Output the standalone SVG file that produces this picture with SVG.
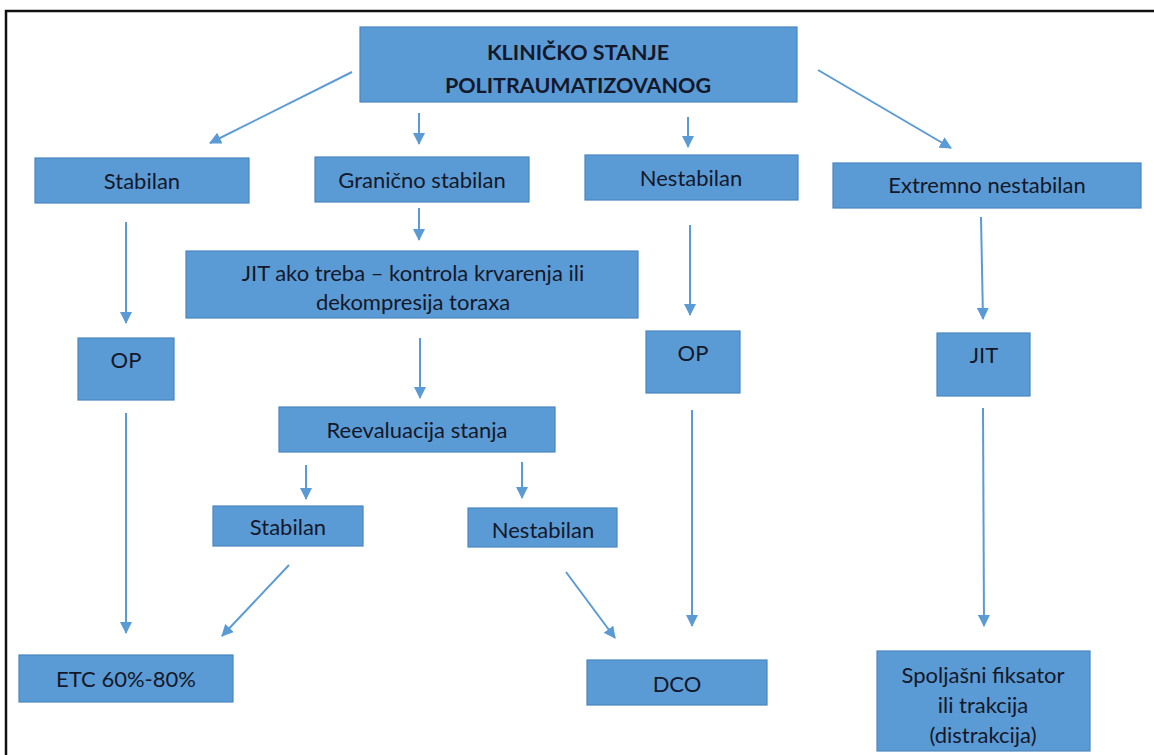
<svg xmlns="http://www.w3.org/2000/svg" width="1154" height="755" viewBox="0 0 1154 755">
<style>
.box{fill:#5B9BD5;stroke:#4A86C0;stroke-width:1.2}
.t{font-family:Lato,"Liberation Sans",sans-serif;font-size:22px;fill:#14182a;text-anchor:middle}
.b{font-weight:bold;font-size:21.5px}
.c{stroke:#5B9BD5;stroke-width:2;fill:none;marker-end:url(#ah)}
</style>
<defs>
<marker id="ah" viewBox="0 0 12 12" refX="11" refY="6" markerWidth="12" markerHeight="12" markerUnits="userSpaceOnUse" orient="auto">
<path d="M0,0 L12,6 L0,12 Z" fill="#5B9BD5"/>
</marker>
</defs>
<rect width="1154" height="755" fill="#ffffff"/>
<path d="M6,755 V11 H1154" stroke="#111" stroke-width="2.5" fill="none"/>
<g id="connectors">
<line class="c" x1="352" y1="72" x2="210" y2="143"/>
<line class="c" x1="419" y1="113" x2="419" y2="144"/>
<line class="c" x1="688" y1="117" x2="688" y2="147"/>
<line class="c" x1="818" y1="70" x2="951" y2="148"/>
<line class="c" x1="126" y1="222" x2="126" y2="323"/>
<line class="c" x1="419" y1="208" x2="419" y2="240"/>
<line class="c" x1="690" y1="225" x2="690" y2="315"/>
<line class="c" x1="981" y1="217" x2="983" y2="319"/>
<line class="c" x1="420" y1="338" x2="420" y2="398"/>
<line class="c" x1="306" y1="465" x2="306" y2="499"/>
<line class="c" x1="522" y1="462" x2="522" y2="498"/>
<line class="c" x1="126" y1="413" x2="126" y2="633"/>
<line class="c" x1="289" y1="565" x2="222" y2="636"/>
<line class="c" x1="566" y1="572" x2="615" y2="638"/>
<line class="c" x1="692" y1="410" x2="692" y2="626"/>
<line class="c" x1="983" y1="408" x2="984" y2="626"/>
</g>
<g id="title"><rect class="box" x="360" y="27" width="437" height="75"/>
<text class="t b" x="578" y="60">KLINIČKO STANJE</text>
<text class="t b" x="578" y="93">POLITRAUMATIZOVANOG</text></g>
<g id="stabilan"><rect class="box" x="35" y="158" width="214" height="45"/>
<text class="t" x="142" y="189">Stabilan</text></g>
<g id="granicno"><rect class="box" x="315" y="157" width="214" height="45"/>
<text class="t" x="422" y="188">Granično stabilan</text></g>
<g id="nestabilan"><rect class="box" x="585" y="155" width="213" height="45"/>
<text class="t" x="691" y="186">Nestabilan</text></g>
<g id="extremno"><rect class="box" x="833" y="163" width="308" height="45"/>
<text class="t" x="987" y="193">Extremno nestabilan</text></g>
<g id="jit-ako"><rect class="box" x="186" y="251" width="452" height="67"/>
<text class="t" x="413" y="281">JIT ako treba – kontrola krvarenja ili</text>
<text class="t" x="413" y="310">dekompresija toraxa</text></g>
<g id="op-left"><rect class="box" x="78" y="338" width="96" height="62"/>
<text class="t" x="126" y="368">OP</text></g>
<g id="op-mid"><rect class="box" x="646" y="331" width="94" height="62"/>
<text class="t" x="693" y="361">OP</text></g>
<g id="jit-right"><rect class="box" x="937" y="333" width="93" height="63"/>
<text class="t" x="984" y="363">JIT</text></g>
<g id="reeval"><rect class="box" x="279" y="407" width="276" height="45"/>
<text class="t" x="417" y="438">Reevaluacija stanja</text></g>
<g id="stabilan2"><rect class="box" x="213" y="506" width="150" height="40"/>
<text class="t" x="288" y="535">Stabilan</text></g>
<g id="nestabilan2"><rect class="box" x="468" y="508" width="149" height="39"/>
<text class="t" x="543" y="538">Nestabilan</text></g>
<g id="etc"><rect class="box" x="19" y="655" width="214" height="47"/>
<text class="t" x="126" y="687">ETC 60%-80%</text></g>
<g id="dco"><rect class="box" x="587" y="660" width="180" height="45"/>
<text class="t" x="677" y="692">DCO</text></g>
<g id="spoljasni"><rect class="box" x="877" y="651" width="213" height="100"/>
<text class="t" x="983" y="683">Spoljašni fiksator</text>
<text class="t" x="983" y="713">ili trakcija</text>
<text class="t" x="983" y="743">(distrakcija)</text></g>
</svg>
